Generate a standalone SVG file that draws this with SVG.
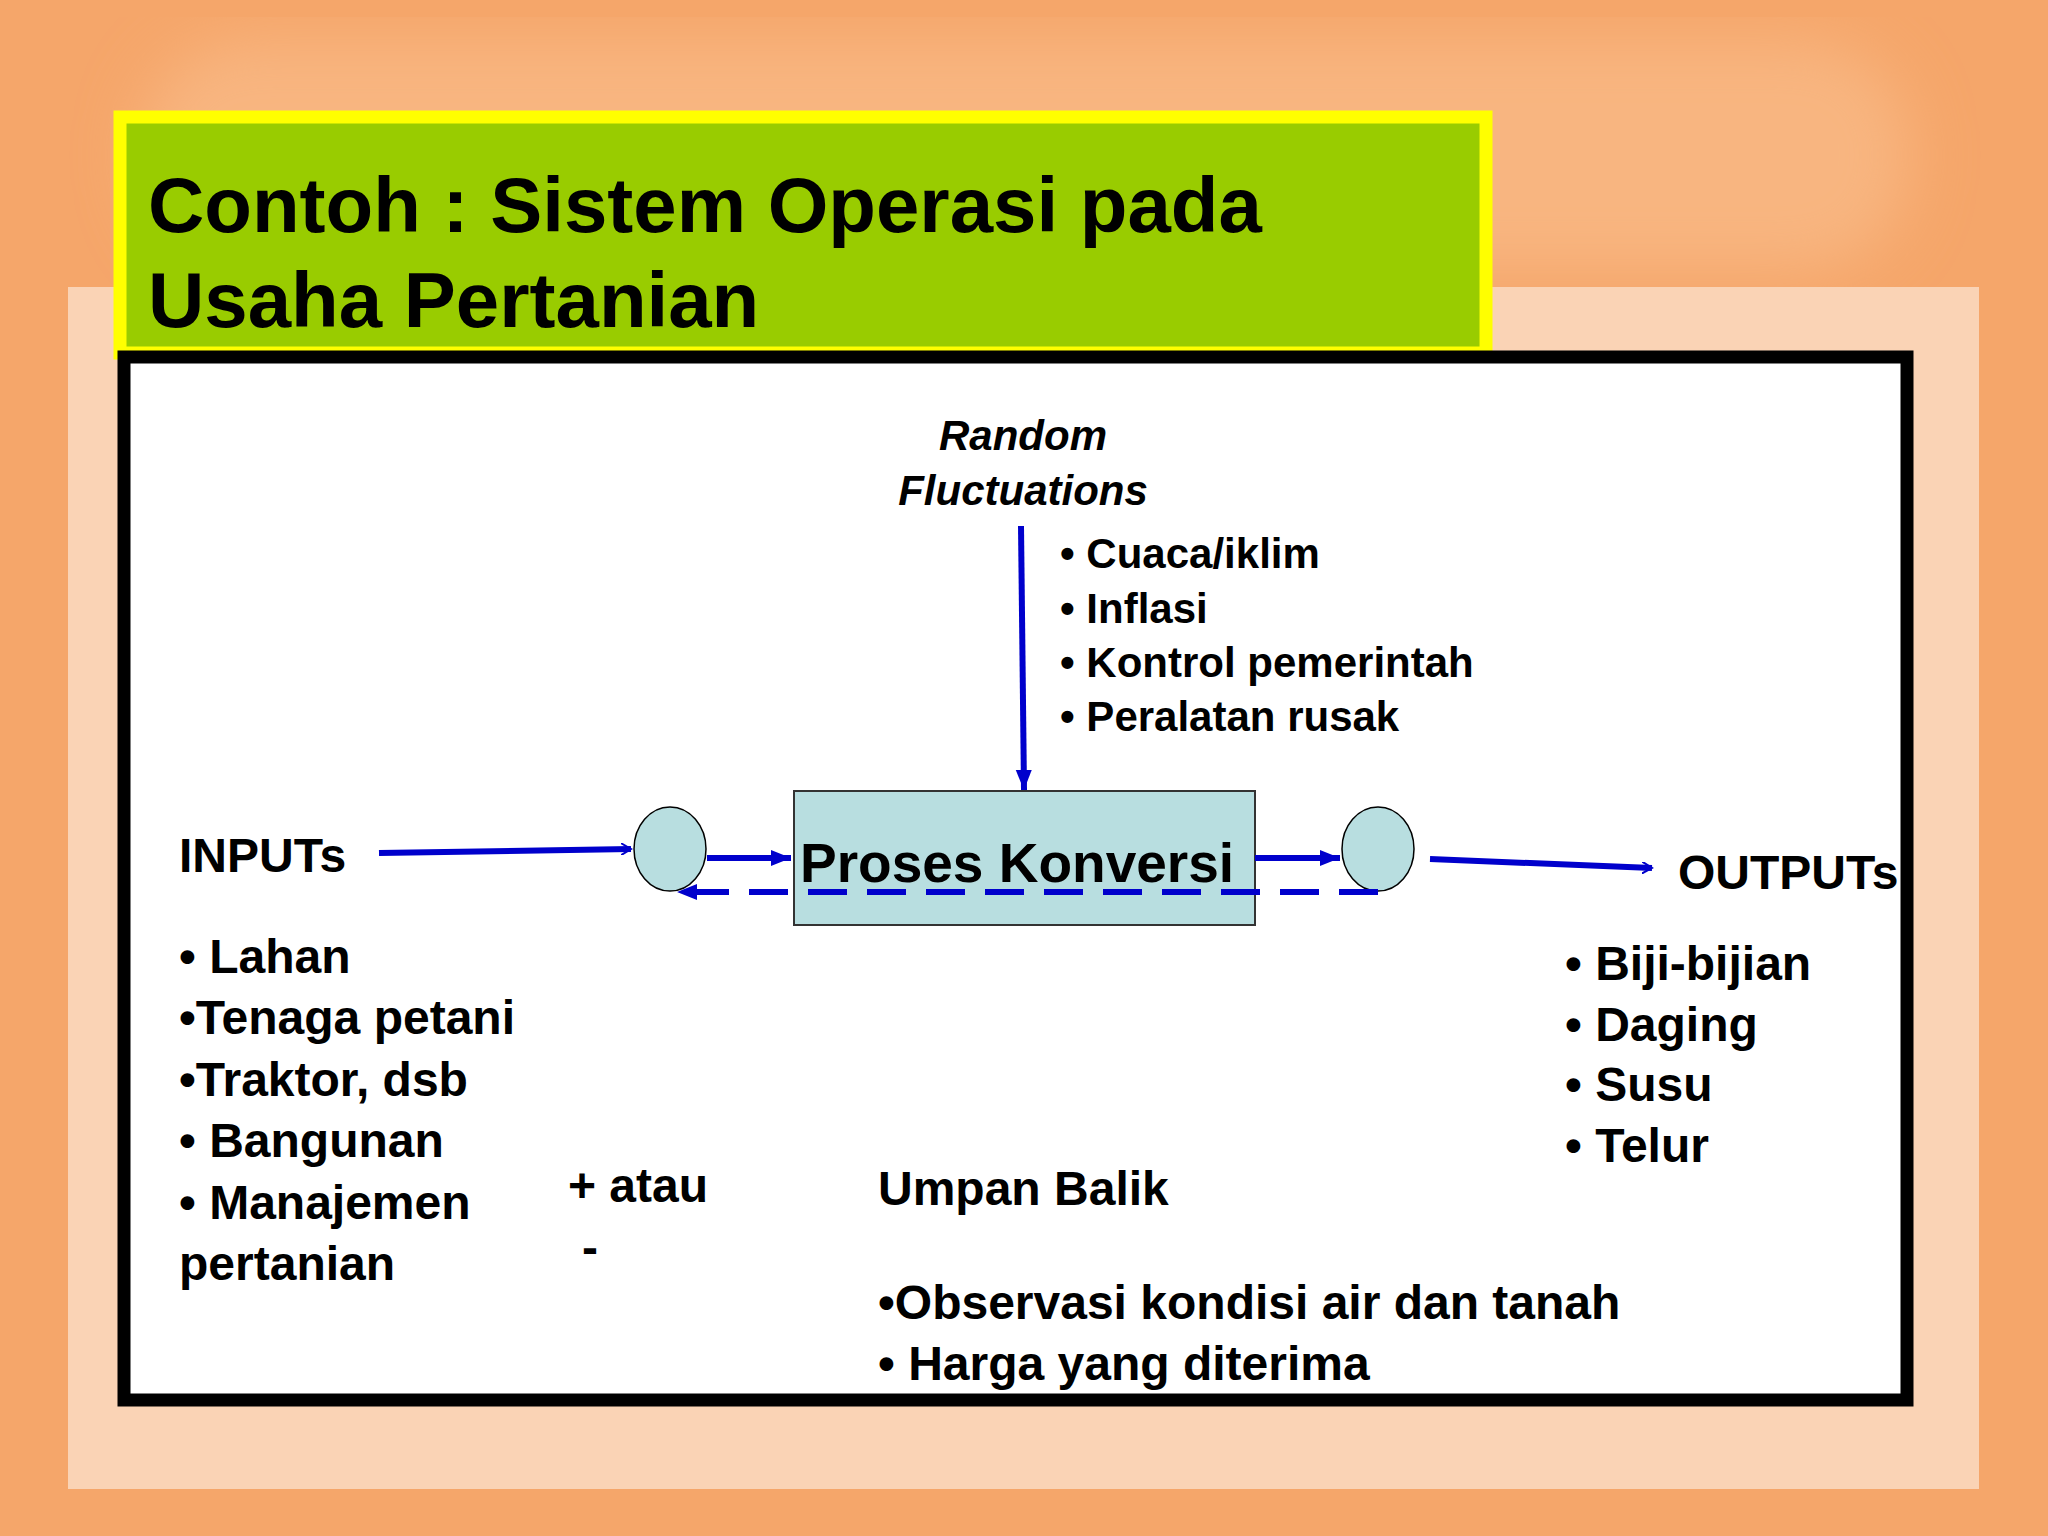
<svg xmlns="http://www.w3.org/2000/svg" width="2048" height="1536" viewBox="0 0 2048 1536">
<defs>
<marker id="open" markerWidth="12" markerHeight="12" refX="10" refY="6" orient="auto" markerUnits="userSpaceOnUse" viewBox="0 0 12 12"><path d="M0,0 L10,6 L0,12" fill="none" stroke="#0000CC" stroke-width="2"/></marker>
<marker id="fill" markerWidth="22" markerHeight="22" refX="20" refY="11" orient="auto" markerUnits="userSpaceOnUse" viewBox="0 0 22 22"><path d="M0,3 L20,11 L0,19 Z" fill="#0000CC"/></marker>
<filter id="blur"><feGaussianBlur stdDeviation="30"/></filter>
</defs>
<style>
text{font-family:"Liberation Sans",Arial,sans-serif;font-weight:bold;fill:#000}
.m{font-size:48px}
.s{font-size:42px}
.b{stroke:#0000CC;stroke-width:6;fill:none}
</style>
<rect width="2048" height="1536" fill="#F5A66A"/>
<rect x="140" y="40" width="1770" height="230" rx="110" fill="#F8B580" filter="url(#blur)"/>
<rect x="68" y="287" width="1911" height="1202" fill="#FAD3B5"/>
<g id="title">
<rect x="120" y="117" width="1366" height="236" fill="#99CC00" stroke="#FFFF00" stroke-width="13"/>
<text x="148" y="232" font-size="78">Contoh : Sistem Operasi pada</text>
<text x="148" y="327" font-size="78">Usaha Pertanian</text>
</g>
<rect id="frame" x="124" y="357" width="1783" height="1043" fill="#FFFFFF" stroke="#000" stroke-width="13"/>
<g id="random">
<text x="1023" y="450" class="s" font-style="italic" text-anchor="middle">Random</text>
<text x="1023" y="505" class="s" font-style="italic" text-anchor="middle">Fluctuations</text>
<text x="1060" y="568" class="s">• Cuaca/iklim</text>
<text x="1060" y="623" class="s">• Inflasi</text>
<text x="1060" y="677" class="s">• Kontrol pemerintah</text>
<text x="1060" y="731" class="s">• Peralatan rusak</text>
</g>
<g id="proses">
<rect x="794" y="791" width="461" height="134" fill="#B8DEE0" stroke="#333" stroke-width="2"/>
<text x="800" y="882" font-size="55" fill="#1a1a1a">Proses Konversi</text>
</g>
<g id="circleL"><ellipse cx="670" cy="849" rx="36" ry="42" fill="#B8DEE0" stroke="#000" stroke-width="1.5"/></g>
<g id="circleR"><ellipse cx="1378" cy="849" rx="36" ry="42" fill="#B8DEE0" stroke="#000" stroke-width="1.5"/></g>
<g id="inputs">
<text x="179" y="872" class="m">INPUTs</text>
<text x="179" y="973" class="m">• Lahan</text>
<text x="179" y="1034" class="m">•Tenaga petani</text>
<text x="179" y="1096" class="m">•Traktor, dsb</text>
<text x="179" y="1157" class="m">• Bangunan</text>
<text x="179" y="1219" class="m">• Manajemen</text>
<text x="179" y="1280" class="m">pertanian</text>
</g>
<g id="outputs">
<text x="1678" y="889" class="m">OUTPUTs</text>
<text x="1565" y="980" class="m">• Biji-bijian</text>
<text x="1565" y="1041" class="m">• Daging</text>
<text x="1565" y="1101" class="m">• Susu</text>
<text x="1565" y="1162" class="m">• Telur</text>
</g>
<g id="feedback">
<text x="568" y="1202" class="m">+  atau</text>
<text x="582" y="1264" class="m">-</text>
<text x="878" y="1205" class="m">Umpan Balik</text>
<text x="878" y="1319" class="m">•Observasi kondisi air dan tanah</text>
<text x="878" y="1380" class="m">• Harga yang diterima</text>
</g>
<g id="connectors">
<line x1="1021" y1="526" x2="1024" y2="790" class="b" stroke-width="5" marker-end="url(#fill)"/>
<line x1="379" y1="853" x2="631" y2="849" class="b" marker-end="url(#open)"/>
<line x1="707" y1="858" x2="791" y2="858" class="b" marker-end="url(#fill)"/>
<line x1="1255" y1="858" x2="1340" y2="858" class="b" marker-end="url(#fill)"/>
<line x1="1430" y1="859" x2="1652" y2="868" class="b" marker-end="url(#open)"/>
<line x1="1378" y1="892" x2="677" y2="892" class="b" stroke-dasharray="39 20" marker-end="url(#fill)"/>
</g>
</svg>
